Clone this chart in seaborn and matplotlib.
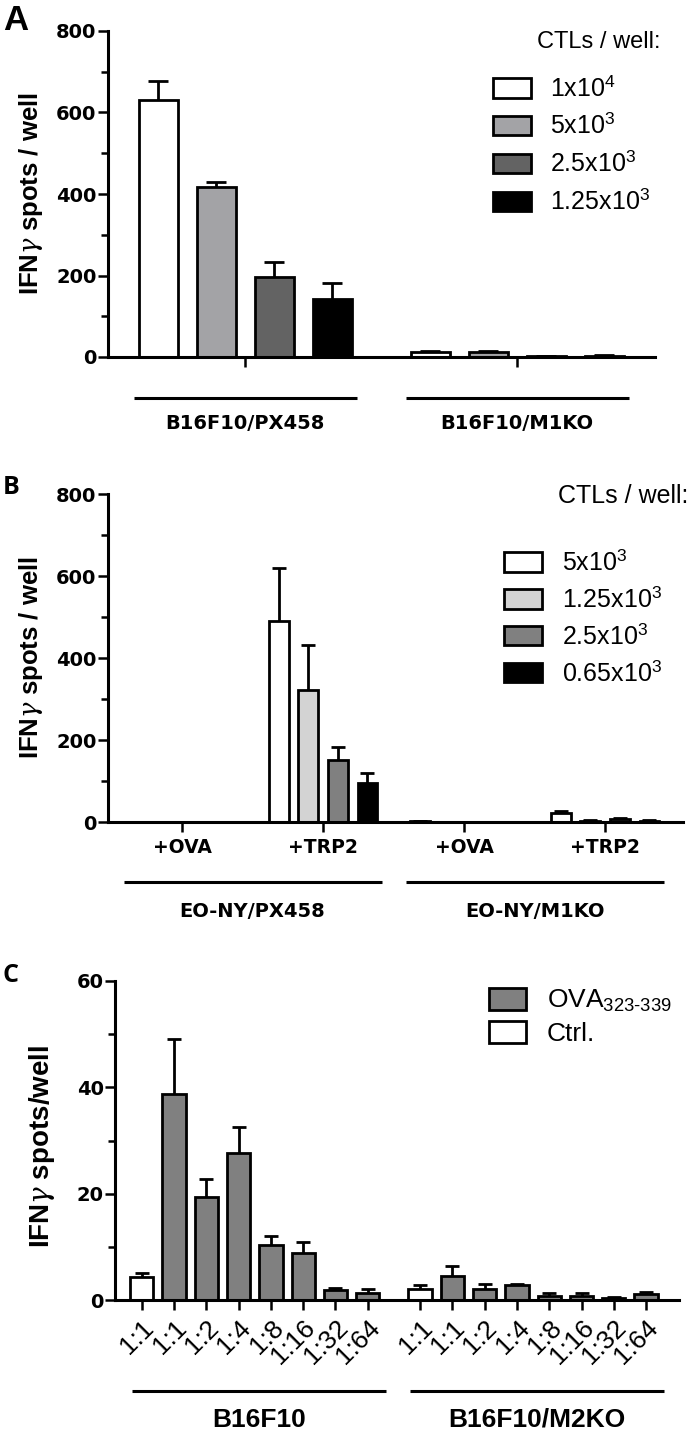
import numpy as np
import pandas as pd
import matplotlib
matplotlib.use("Agg")
import matplotlib.pyplot as plt
import matplotlib.transforms as mtrans
from matplotlib.patches import Patch
from matplotlib.ticker import MultipleLocator
import seaborn as sns

sns.set_style("ticks")
plt.rcParams['font.family'] = ['DejaVu Sans']
plt.rcParams['mathtext.fontset'] = 'custom'
plt.rcParams['mathtext.rm'] = 'Liberation Sans'
plt.rcParams['mathtext.it'] = 'DejaVu Serif:italic'
for k in ("text.color", "axes.labelcolor", "xtick.color", "ytick.color", "axes.edgecolor"):
    plt.rcParams[k] = "black"

# ---------------- data ----------------
# Panel A
a_groups = ["B16F10/PX458", "B16F10/M1KO"]
a_levels = ["1x10^4", "5x10^3", "2.5x10^3", "1.25x10^3"]
a_legend = [r"1x10$^{\mathregular{4}}$", r"5x10$^{\mathregular{3}}$",
            r"2.5x10$^{\mathregular{3}}$", r"1.25x10$^{\mathregular{3}}$"]
a_mean_1e4 = [630, 12]
a_mean_5e3 = [417, 12]
a_mean_25e2 = [196, 2]
a_mean_125e1 = [143, 3]
a_sem_1e4 = [47, 3]
a_sem_5e3 = [12, 3]
a_sem_25e2 = [37, 1]
a_sem_125e1 = [39, 1]
a_colors = ["#ffffff", "#a3a3a6", "#636363", "#000000"]
a_yticks = [0, 200, 400, 600, 800]

# Panel B
b_cats = ["PX458 +OVA", "PX458 +TRP2", "M1KO +OVA", "M1KO +TRP2"]
b_ticklabels = ["+OVA", "+TRP2", "+OVA", "+TRP2"]
b_groups = ["EO-NY/PX458", "EO-NY/M1KO"]
b_levels = ["5x10^3", "1.25x10^3", "2.5x10^3", "0.65x10^3"]
b_legend = [r"5x10$^{\mathregular{3}}$", r"1.25x10$^{\mathregular{3}}$",
            r"2.5x10$^{\mathregular{3}}$", r"0.65x10$^{\mathregular{3}}$"]
b_mean_5e3 = [0.5, 490, 1.5, 21]
b_mean_125e1 = [0.3, 322, 0.5, 3]
b_mean_25e2 = [0.3, 151, 0.5, 8]
b_mean_65e1 = [0.3, 95, 0.5, 3]
b_sem_5e3 = [0, 130, 0.5, 5]
b_sem_125e1 = [0, 110, 0, 1.5]
b_sem_25e2 = [0, 32, 0, 2.5]
b_sem_65e1 = [0, 24, 0, 1]
b_colors = ["#ffffff", "#d3d3d3", "#808080", "#000000"]
b_yticks = [0, 200, 400, 600, 800]

# Panel C
c_groups = ["B16F10", "B16F10/M2KO"]
c_ticklabels = ["1:1", "1:1", "1:2", "1:4", "1:8", "1:16", "1:32", "1:64"]
c_cond = ["Ctrl.", "OVA", "OVA", "OVA", "OVA", "OVA", "OVA", "OVA"]
c_mean_wt = [4.4, 38.8, 19.4, 27.7, 10.3, 8.8, 1.9, 1.4]
c_sem_wt = [0.6, 10.2, 3.3, 4.8, 1.7, 2.2, 0.3, 0.7]
c_mean_ko = [2.1, 4.6, 2.1, 2.75, 0.75, 0.75, 0.45, 1.1]
c_sem_ko = [0.8, 1.8, 1.0, 0.2, 0.5, 0.5, 0.2, 0.4]
c_legend = ["OVA$_{\\mathregular{323\u2010339}}$", "Ctrl."]
c_colors = {"OVA": "#808080", "Ctrl.": "#ffffff"}
c_yticks = [0, 20, 40, 60]

# ---------------- figure ----------------
W, H = 697, 1433
fig = plt.figure(figsize=(W / 100, H / 100), dpi=100)


def fig_axes(left, right, top, bottom):
    return fig.add_axes([left / W, 1 - bottom / H, (right - left) / W, (bottom - top) / H])


axA = fig_axes(108, 655, 31, 357)
axB = fig_axes(108, 683, 494, 822)
axC = fig_axes(115, 679, 981, 1300)

TICKFONT = dict(family="DejaVu Sans", weight="bold", size=14, color="black")
YLAB = dict(family="Liberation Sans", weight="bold", size=18.5, color="black")
SPINE_LW = 2.2


def style_axes(ax, yticks, minor):
    sns.despine(ax=ax)
    for s in ("left", "bottom"):
        ax.spines[s].set_linewidth(SPINE_LW)
        ax.spines[s].set_color("black")
    ax.set_ylim(yticks[0], yticks[-1])
    ax.set_yticks(yticks)
    ax.set_yticklabels([str(t) for t in yticks], **TICKFONT)
    ax.yaxis.set_minor_locator(MultipleLocator(minor))
    ax.tick_params(axis="y", which="major", length=7.2, width=1.8, pad=1, direction="out", color="black")
    ax.tick_params(axis="y", which="minor", length=5, width=1.8, direction="out", color="black")
    ax.tick_params(axis="x", which="major", length=7.2, width=1.8, direction="out", color="black")
    ax.tick_params(axis="x", which="minor", length=0)
    ax.grid(False)


def grouped(ax, cats, levels, means, sems, colors, width, gap, capsize):
    rows = []
    for lev, m in zip(levels, means):
        for c, v in zip(cats, m):
            rows.append((c, lev, v))
    df = pd.DataFrame(rows, columns=["cat", "level", "val"])
    sns.barplot(data=df, x="cat", y="val", hue="level", order=cats, hue_order=levels,
                palette=colors, edgecolor="black", linewidth=2, width=width, gap=gap,
                errorbar=None, legend=False, ax=ax, zorder=2)
    conts = list(ax.containers)
    for cont, e in zip(conts, sems):
        xs = [b.get_x() + b.get_width() / 2 for b in cont]
        hs = [b.get_height() for b in cont]
        ax.errorbar(xs, hs, yerr=e, fmt="none", ecolor="black", elinewidth=2,
                    capsize=capsize, capthick=2, zorder=1)


def group_line(ax, x0, x1, y_line, y_text, text, fontdict):
    tr = mtrans.blended_transform_factory(ax.transData, ax.transAxes)
    ax.plot([x0, x1], [y_line, y_line], transform=tr, color="black", lw=2.2,
            clip_on=False, solid_capstyle="butt")
    ax.text((x0 + x1) / 2, y_text, text, transform=tr, ha="center", va="center",
            color="black", **fontdict)


YLABEL_AB = r"IFN$\gamma$ spots / well"
YLABEL_C = r"IFN$\gamma$ spots/well"

# ---- Panel A ----
grouped(axA, a_groups, a_levels,
        [a_mean_1e4, a_mean_5e3, a_mean_25e2, a_mean_125e1],
        [a_sem_1e4, a_sem_5e3, a_sem_25e2, a_sem_125e1],
        a_colors, width=0.853, gap=0.33, capsize=7)
axA.set_xlim(-0.504, 1.507)
axA.set_xticks(range(len(a_groups)))
axA.set_xticklabels(["" for _ in a_groups])
axA.set_xlabel("")
axA.set_ylabel(YLABEL_AB, **YLAB)
axA.yaxis.set_label_coords(-0.115, 0.5)
style_axes(axA, a_yticks, 100)
for i, g in enumerate(a_groups):
    group_line(axA, i - 0.41, i + 0.41, -0.126, -0.205, g,
               dict(family="DejaVu Sans", weight="bold", size=14))

# ---- Panel B ----
grouped(axB, b_cats, b_levels,
        [b_mean_5e3, b_mean_125e1, b_mean_25e2, b_mean_65e1],
        [b_sem_5e3, b_sem_125e1, b_sem_25e2, b_sem_65e1],
        b_colors, width=0.84, gap=0.33, capsize=4.7)
axB.set_xlim(-0.525, 3.553)
axB.set_xticks(range(len(b_cats)))
axB.set_xticklabels(b_ticklabels, family="DejaVu Sans", weight="bold", size=13.5, color="black")
axB.set_xlabel("")
axB.set_ylabel(YLABEL_AB, **YLAB)
axB.yaxis.set_label_coords(-0.110, 0.5)
style_axes(axB, b_yticks, 100)
axB.tick_params(axis="x", pad=4)
for i, g in enumerate(b_groups):
    c = 2 * i + 0.5
    group_line(axB, c - 0.915, c + 0.915, -0.183, -0.274, g,
               dict(family="DejaVu Sans", weight="bold", size=14))

# ---- Panel C ----
idx = np.arange(len(c_ticklabels))
c_pos = np.concatenate([idx, idx + 8.62])
dfC = pd.DataFrame({
    "pos": c_pos,
    "val": c_mean_wt + c_mean_ko,
    "sem": c_sem_wt + c_sem_ko,
    "cond": c_cond + c_cond,
})
sns.barplot(data=dfC, x="pos", y="val", hue="cond", hue_order=["OVA", "Ctrl."],
            palette=c_colors, native_scale=True, dodge=False, width=0.72,
            edgecolor="black", linewidth=2, errorbar=None, legend=False, ax=axC, zorder=2)
axC.errorbar(dfC["pos"], dfC["val"], yerr=dfC["sem"], fmt="none", ecolor="black",
             elinewidth=2, capsize=4.7, capthick=2, zorder=1)
axC.set_xlim(-0.83, 16.64)
axC.set_xticks(c_pos)
axC.set_xticklabels(c_ticklabels + c_ticklabels, rotation=45, ha="right",
                    rotation_mode="anchor", family="Liberation Sans", size=19, color="black")
axC.set_xlabel("")
axC.set_ylabel(YLABEL_C, family="Liberation Sans", weight="bold", size=20, color="black")
axC.yaxis.set_label_coords(-0.103, 0.48)
style_axes(axC, c_yticks, 10)
axC.tick_params(axis="x", pad=4)
group_line(axC, c_pos[0] - 0.3, c_pos[7] + 0.55, -0.285, -0.376, c_groups[0],
           dict(family="Liberation Sans", weight="bold", size=19))
group_line(axC, c_pos[8] - 0.3, c_pos[15] + 0.55, -0.285, -0.376, c_groups[1],
           dict(family="Liberation Sans", weight="bold", size=19))


# ---- Legends ----
def make_legend(ax, colors, labels, x_left, y_top, fs, hl, hh, ls):
    handles = [Patch(facecolor=c, edgecolor="black", linewidth=2) for c in colors]
    leg = ax.legend(handles, labels, loc="upper left", bbox_to_anchor=(x_left / W, 1 - y_top / H),
                    bbox_transform=fig.transFigure, frameon=False,
                    prop={"family": "Liberation Sans", "size": fs},
                    handlelength=hl, handleheight=hh, handletextpad=0.8,
                    labelspacing=ls, borderpad=0, borderaxespad=0)
    for t in leg.get_texts():
        t.set_color("black")
    return leg


make_legend(axA, a_colors, a_legend, 493, 76, 18, 1.5, 0.8, 0.48)
fig.text(537 / W, 1 - 42 / H, "CTLs / well:", ha="left", va="center",
         family="Liberation Sans", size=17, color="black")
make_legend(axB, b_colors, b_legend, 504, 550, 18, 1.5, 0.8, 0.45)
fig.text(558 / W, 1 - 496 / H, "CTLs / well:", ha="left", va="center",
         family="Liberation Sans", size=18, color="black")
make_legend(axC, [c_colors["OVA"], c_colors["Ctrl."]], c_legend, 489, 988, 19, 1.4, 0.9, 0.25)

# panel letters
fig.text(3 / W, 1 - 4 / H, "A", ha="left", va="top", family="Liberation Sans", weight="bold", size=25)
fig.text(3 / W, 1 - 475 / H, "B", ha="left", va="top", family="Open Sans", weight="bold", size=18)
fig.text(3 / W, 1 - 963 / H, "C", ha="left", va="top", family="Open Sans", weight="bold", size=18)

fig.savefig("out.png", dpi=100)
